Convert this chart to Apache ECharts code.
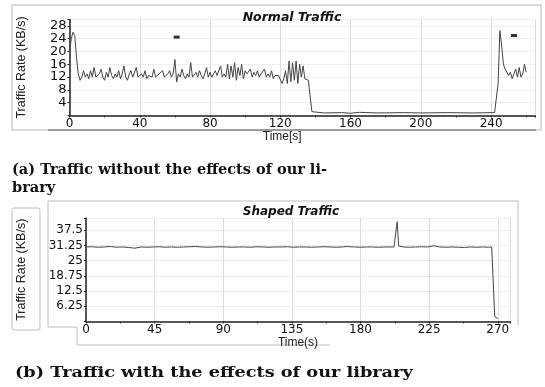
<!DOCTYPE html>
<html>
<head>
<meta charset="utf-8">
<script src="https://cdn.jsdelivr.net/npm/echarts@6/dist/echarts.min.js"></script>
<style>
  html, body { margin: 0; padding: 0; background: #fff; }
  #chart { width: 545px; height: 387px; }
</style>
</head>
<body>
<div id="chart"></div>
<script>
// Normal traffic (KB/s), 1 s samples starting at 0 s
const normalBurst1 = [
  20, 24, 26, 25, 18, 13, 11, 12, 14,
  12, 13, 11.5, 14, 12, 15, 12, 11.5, 13, 14.5, 12, 11, 13.5, 12, 15, 12.5, 11.5, 13, 12, 14,
  11.5, 13, 15.5, 12, 11, 13, 14, 12, 12.5, 15, 12, 11.5,
  13, 12, 14, 11.5, 12.5, 13, 12, 14.5, 12, 11.5, 13, 12.5, 14, 12, 11.5, 13, 14, 12, 13, 17.5,
  10.5, 13, 12, 14.5, 12.5, 11.5, 13, 12, 16.5, 12, 11.5, 13.5, 12, 14, 12.5, 11.5, 13, 15, 12,
  13.5, 12, 11.5, 14, 12.5, 13, 15.5, 12, 13,
  12, 16, 11.5, 15.5, 12, 16.5, 11, 15, 12.5, 16, 11.5, 14, 13, 12.5, 14.5, 12, 13.5, 12.5, 14,
  12, 13, 12.5, 14.5, 12, 13, 12, 14, 11.5, 12.5, 12, 12.5, 12,
  10, 11.5, 14, 10, 17, 10.5, 16.5, 11, 17, 10, 16, 12, 15.5, 11.5, 12, 11, 6, 1.2
];
// idle period, [time s, KB/s]
const normalIdle = [
  [139, 0.9], [145, 0.8], [155, 0.9], [160, 0.7], [165, 1.0], [175, 0.8],
  [190, 0.9], [200, 0.8], [215, 0.9], [230, 0.8], [242, 0.9]
];
// second burst, 1 s samples starting at 243 s
const normalBurst2Start = 243;
const normalBurst2 = [1, 10, 26.5, 22, 16, 14.5, 15, 12.5, 13.5, 11.5, 12, 14.5, 12, 15, 12, 13, 16, 13.5];
// small black marks in the plot
const normalMarks = [[61, 24.5], [253, 25]];

// Shaped traffic
const shapedTime = [
  0, 4, 8, 12, 16, 20, 24, 28, 32, 36, 40, 44, 48, 52, 56, 60, 64, 68, 72, 76, 80, 84, 88, 92,
  96, 100, 104, 108, 112, 116, 120, 124, 128, 132, 136, 140, 144, 148, 152, 156, 160, 164, 168,
  171, 172, 173,
  176, 180, 184, 188, 192, 196, 200,
  202, 203, 204, 205, 206,
  208, 212, 216, 220, 224, 228, 232, 236, 240, 244, 248, 252, 256, 260, 264,
  266, 267, 268, 270
];
const shapedRate = [
  30.6, 30.7, 30.5, 30.6, 30.8, 30.5, 30.6, 30.4, 30.1, 30.6,
  30.5, 30.6, 30.7, 30.5, 30.6, 30.5, 30.6, 30.7, 30.8, 30.6,
  30.5, 30.6, 30.7, 30.6, 30.5, 30.6, 30.6, 30.5, 30.7, 30.6,
  30.5, 30.6, 30.6, 30.7, 30.5, 30.6, 30.6, 30.5, 30.6, 30.7,
  30.6, 30.5, 30.6,
  30.8, 31.4, 30.7,
  30.6, 30.5, 30.6, 30.6, 30.5, 30.6, 30.6,
  30.6, 36, 41, 31, 30.6,
  30.6, 30.5, 30.6, 30.7, 30.6, 31.1, 30.6, 30.5, 30.6, 30.5, 30.4, 30.6, 30.5, 30.6, 30.5,
  30.6, 30.4, 2, 1.2
];

const topXTicks = 40;
const topYTicks = 4;
const botXTicks = 45;
const botYTicks = 6.25;

// build [t, v] pairs for the normal traffic line
const normalData = [];
normalBurst1.forEach((v, i) => normalData.push([i, v]));
normalIdle.forEach((p) => normalData.push(p));
normalBurst2.forEach((v, i) => normalData.push([normalBurst2Start + i, v]));
const shapedData = shapedTime.map((t, i) => [t, shapedRate[i]]);

const labelFont = 'DejaVu Sans';
const gridLine = { show: true, lineStyle: { color: '#dcdcdc', type: 'dotted', width: 1 } };
const axisLine = { show: true, onZero: false, lineStyle: { color: '#222', width: 1.5 } };

function xAxisCfg(gridIndex, max, interval, name, namePad, gap) {
  return {
    type: 'value', gridIndex, min: 0, max, interval,
    name, nameLocation: 'middle', nameGap: gap,
    nameTextStyle: { fontFamily: 'Liberation Sans', fontSize: 12, color: '#222', padding: namePad },
    axisLine,
    axisTick: { show: true, length: 2, lineStyle: { color: '#222' } },
    minorTick: { show: true, splitNumber: 2, length: 2, lineStyle: { color: '#333' } },
    splitLine: { show: true, lineStyle: { color: '#dcdcdc', width: 1 } },
    axisLabel: {
      margin: 2, fontFamily: labelFont, fontSize: 12, color: '#111',
      formatter: (v) => (v % interval === 0 ? String(v) : '')
    }
  };
}

function yAxisCfg(gridIndex, max, interval, gap, size) {
  return {
    type: 'value', gridIndex, min: 0, max, interval,
    name: 'Traffic Rate (KB/s)', nameLocation: 'middle', nameGap: gap,
    nameTextStyle: { fontFamily: 'Liberation Sans', fontSize: 12.5, color: '#222' },
    axisLine,
    axisTick: { show: true, length: 2, lineStyle: { color: '#222' } },
    splitLine: gridLine,
    axisLabel: {
      margin: 3, fontFamily: labelFont, fontSize: size, color: '#111',
      formatter: (v) => (v === 0 || v === max ? '' : String(v))
    }
  };
}

const chart = echarts.init(document.getElementById('chart'));
chart.setOption({
  animation: false,
  backgroundColor: '#fff',
  title: [
    {
      text: 'Normal Traffic', left: 287, top: 6, textAlign: 'center',
      textStyle: { fontFamily: 'DejaVu Sans', fontSize: 12.5, fontWeight: 'bold', fontStyle: 'italic', color: '#111' }
    },
    {
      text: 'Shaped Traffic', left: 286, top: 201, textAlign: 'center',
      textStyle: { fontFamily: 'DejaVu Sans', fontSize: 12, fontWeight: 'bold', fontStyle: 'italic', color: '#111' }
    }
  ],
  grid: [
    { left: 69.5, top: 19.5, width: 465.5, height: 96 },
    { left: 86, top: 218, width: 424, height: 103.5 }
  ],
  xAxis: [
    xAxisCfg(0, 265, topXTicks, 'Time[s]', [0, 40, 0, 0], 14),
    xAxisCfg(1, 278, botXTicks, 'Time(s)', [0, 0, 0, 0], 15)
  ],
  yAxis: [
    yAxisCfg(0, 30, topYTicks, 41, 13),
    yAxisCfg(1, 42.5, botYTicks, 58, 12)
  ],
  series: [
    {
      type: 'line', xAxisIndex: 0, yAxisIndex: 0, data: normalData,
      showSymbol: false, lineStyle: { color: '#444', width: 1 }
    },
    {
      type: 'scatter', xAxisIndex: 0, yAxisIndex: 0, data: normalMarks,
      symbol: 'rect', symbolSize: [6, 3], itemStyle: { color: '#000' }
    },
    {
      type: 'line', xAxisIndex: 1, yAxisIndex: 1, data: shapedData,
      showSymbol: false, lineStyle: { color: '#444', width: 1 }
    }
  ],
  graphic: [
    // window frames of the screenshot
    { type: 'rect', shape: { x: 12, y: 5, width: 529, height: 125 }, style: { fill: 'none', stroke: '#cfcfcf', lineWidth: 1.5 }, z: -1 },
    { type: 'line', shape: { x1: 48, y1: 130, x2: 536, y2: 130 }, style: { stroke: '#9a9a9a', lineWidth: 2 }, z: -1 },
    { type: 'rect', shape: { x: 12, y: 208, width: 28, height: 122, r: 2 }, style: { fill: 'none', stroke: '#bdbdbd', lineWidth: 1 }, z: -1 },
    { type: 'polyline', shape: { points: [[48, 327], [48, 201], [518, 201], [518, 325]] }, style: { fill: 'none', stroke: '#bdbdbd', lineWidth: 1 }, z: -1 },
    { type: 'polyline', shape: { points: [[48, 327], [77, 327], [77, 345], [330, 345]] }, style: { fill: 'none', stroke: '#bdbdbd', lineWidth: 1 }, z: -1 },
    // captions
    {
      type: 'text', left: 12, top: 161,
      style: { text: '(a) Traffic without the effects of our li-\nbrary', fontFamily: 'DejaVu Serif', fontWeight: 'bold', fontSize: 14.5, lineHeight: 18, fill: '#111' }
    },
    {
      type: 'text', x: 15, y: 366, scaleX: 1.22,
      style: { text: '(b) Traffic with the effects of our library', fontFamily: 'DejaVu Serif', fontWeight: 'bold', fontSize: 14.5, fill: '#111' }
    }
  ]
});
</script>
</body>
</html>
